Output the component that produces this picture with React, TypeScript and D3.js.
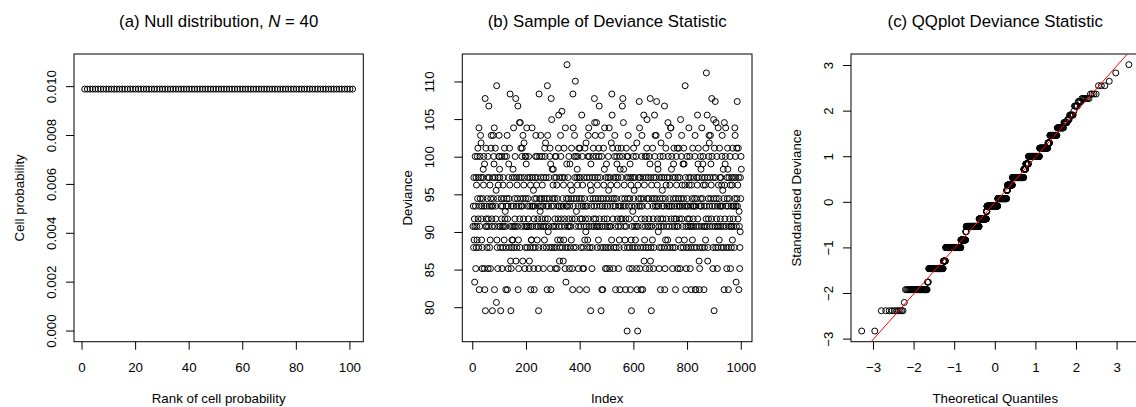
import React, { useMemo } from "react";
import * as d3 from "d3";

// ---------- Panel (a): null distribution cell probabilities (101 cells) ----------
const cellProbability = [
  0.0099, 0.0099, 0.0099, 0.0099, 0.0099, 0.0099, 0.0099, 0.0099, 0.0099, 0.0099,
  0.0099, 0.0099, 0.0099, 0.0099, 0.0099, 0.0099, 0.0099, 0.0099, 0.0099, 0.0099,
  0.0099, 0.0099, 0.0099, 0.0099, 0.0099, 0.0099, 0.0099, 0.0099, 0.0099, 0.0099,
  0.0099, 0.0099, 0.0099, 0.0099, 0.0099, 0.0099, 0.0099, 0.0099, 0.0099, 0.0099,
  0.0099, 0.0099, 0.0099, 0.0099, 0.0099, 0.0099, 0.0099, 0.0099, 0.0099, 0.0099,
  0.0099, 0.0099, 0.0099, 0.0099, 0.0099, 0.0099, 0.0099, 0.0099, 0.0099, 0.0099,
  0.0099, 0.0099, 0.0099, 0.0099, 0.0099, 0.0099, 0.0099, 0.0099, 0.0099, 0.0099,
  0.0099, 0.0099, 0.0099, 0.0099, 0.0099, 0.0099, 0.0099, 0.0099, 0.0099, 0.0099,
  0.0099, 0.0099, 0.0099, 0.0099, 0.0099, 0.0099, 0.0099, 0.0099, 0.0099, 0.0099,
  0.0099, 0.0099, 0.0099, 0.0099, 0.0099, 0.0099, 0.0099, 0.0099, 0.0099, 0.0099,
  0.0099,
];
const yLimA = [0, 0.0109];
const xTicksA = [0, 20, 40, 60, 80, 100];
const yTicksA = [0, 0.002, 0.004, 0.006, 0.008, 0.01];

// ---------- Panel (b): 1000 sampled deviance values, one code letter per draw ----------
const levelCodes = "abcdefghijklmnopqrstuvwxyzABCDEFGHIJK";
const devianceLevels = [
  76.9, 79.6, 80.7, 82.4, 83.4, 85.2, 86.2, 88.0, 89.0, 90.1,
  90.8, 91.8, 92.8, 93.5, 94.5, 95.6, 96.3, 97.3, 98.4, 99.1,
  100.1, 101.2, 101.9, 102.9, 103.9, 104.6, 105.0, 105.6, 106.1, 106.8,
  107.4, 107.8, 108.4, 109.5, 110.1, 111.2, 112.3,
];
const devianceSample = [
  "knhrilekun" + "frhqkiuovl" + "rhydnkuoxr" + "wlinfhorsq" + "unftdFbkvl",
  "nkhoruflkD" + "rnhqifovxn" + "lkbrnxouty" + "dkrvnlpcHi" + "hofrqkuxus",
  "rkhbnolufk" + "nhqrkoivul" + "mkdhnuoxdl" + "nfrtohvqGk" + "gbfnhirkis",
  "nyhkrolukF" + "gnrhqokDdi" + "fnrzlhzovn" + "rkuvngxolq" + "wrkfuhoutk",
  "ykhnrolukf" + "gnrhqdkiin" + "yrknhpfldo" + "nrhuxkoqui" + "rlkfbhGnuo",
  "mkxrnoluqk" + "nhfrkoivul" + "wkrhnodHxl" + "jnkrohuvft" + "dFnAhskoqs",
  "nkhrolufku" + "rhqfoinlvB" + "kngrhixunl" + "kCrhongqiv" + "rlkfyhenot",
  "Knhkrolukf" + "nthqkoivpl" + "fdGynhouxr" + "lIkuhmorsq" + "unfkvrodvl",
  "rkhnoBluqf" + "nhfrkoivnl" + "jwkdrnhiux" + "lykurhoqbt" + "pnkfhruovl",
  "knFzrxoluk" + "znhqrkoivu" + "Dlkrnhobxu" + "dkndohvqls" + "ynkfhrotfl",
  "nkhrupoykf" + "rnhqkwiGBo" + "vlnfrhouxn" + "kdrhoutqlv" + "rkfnhiudsl",
  "knvrolDuFn" + "zshqkoindl" + "kvruahouxr" + "nlfhotdrqi" + "bnkfhmruvo",
  "pkhrnilukf" + "wdhaqkonrE" + "yfrnhodlux" + "nkdrhoBgqi" + "lukfhruvAo",
  "nkhrolufkt" + "Fgrhbqkoiv" + "nlfrhoBuxn" + "krxoEnqlts" + "jnkfhroudl",
  "wkhrnpoluk" + "nrhDdfoivq" + "lknrhizuxn" + "kroqhnyyls" + "unkfhrotvl",
  "nkhrdoluqk" + "nvfrkoivnl" + "rfnAhouxlq" + "nkthovtinq" + "Hrdkfhnuol",
  "nkhryqlukf" + "rnhdqkoivn" + "lkrnhouxdd" + "nkhorqBltv" + "rkgdfhnuos",
  "nkyrhotuqk" + "dnhrkqivlJ" + "nkBrgholux" + "wnkrxotqlF" + "unkfhrAobv",
  "nkErhzoluk" + "fnhyqkoivn" + "rlkrnhquxn" + "pkshodzqlt" + "uyknhfrovs",
  "ndhrkoluqf" + "knhrkqivnl" + "rknhoyxurn" + "ekvoEnqlvr" + "dmkfhjrous",
].join("");

const xTicksB = [0, 200, 400, 600, 800, 1000];
const yTicksB = [80, 85, 90, 95, 100, 105, 110];

// ---------- Panel (c) ----------
const ticksC = [-3, -2, -1, 0, 1, 2, 3];
const refLine = { intercept: 0, slope: 1 };

function qnorm(p: number): number {
  const a = [-3.969683028665376e1, 2.209460984245205e2, -2.759285104469687e2, 1.38357751867269e2, -3.066479806614716e1, 2.506628277459239];
  const b = [-5.447609879822406e1, 1.615858368580409e2, -1.556989798598866e2, 6.680131188771972e1, -1.328068155288572e1];
  const c = [-7.784894002430293e-3, -3.223964580411365e-1, -2.400758277161838, -2.549732539343734, 4.374664141464968, 2.938163982698783];
  const d = [7.784695709041462e-3, 3.224671290700398e-1, 2.445134137142996, 3.754408661907416];
  const plow = 0.02425;
  if (p < plow) {
    const q = Math.sqrt(-2 * Math.log(p));
    return (((((c[0] * q + c[1]) * q + c[2]) * q + c[3]) * q + c[4]) * q + c[5]) / ((((d[0] * q + d[1]) * q + d[2]) * q + d[3]) * q + 1);
  }
  if (p > 1 - plow) {
    const q = Math.sqrt(-2 * Math.log(1 - p));
    return -(((((c[0] * q + c[1]) * q + c[2]) * q + c[3]) * q + c[4]) * q + c[5]) / ((((d[0] * q + d[1]) * q + d[2]) * q + d[3]) * q + 1);
  }
  const q = p - 0.5;
  const r = q * q;
  return ((((((a[0] * r + a[1]) * r + a[2]) * r + a[3]) * r + a[4]) * r + a[5]) * q) / (((((b[0] * r + b[1]) * r + b[2]) * r + b[3]) * r + b[4]) * r + 1);
}

function ext(lo: number, hi: number): [number, number] {
  const e = (hi - lo) * 0.04;
  return [lo - e, hi + e];
}

const FONT = '"Liberation Sans", Arial, Helvetica, sans-serif';
const TOP = 54;
const BOT = 341.7;
const FS = 13.3;
const TICK = 8;
const R = 3.0;

function Frame(p: any) {
  const cx = (p.left + p.right) / 2;
  const cy = (TOP + BOT) / 2;
  return (
    <g>
      <rect x={p.left} y={TOP} width={p.right - p.left} height={BOT - TOP} fill="none" stroke="#000" strokeWidth={1} />
      {p.xTicks.map((t: number) => (
        <g key={"xt" + t}>
          <line x1={p.x(t)} x2={p.x(t)} y1={BOT} y2={BOT + TICK} stroke="#000" strokeWidth={1} />
          <text x={p.x(t)} y={371.5} textAnchor="middle" fontSize={FS} fontFamily={FONT}>{p.xFmt(t)}</text>
        </g>
      ))}
      {p.yTicks.map((t: number) => (
        <g key={"yt" + t}>
          <line x1={p.left} x2={p.left - TICK} y1={p.y(t)} y2={p.y(t)} stroke="#000" strokeWidth={1} />
          <text transform={`translate(${p.left - p.yLabelOffset + 4.75},${p.y(t)}) rotate(-90)`} textAnchor="middle" fontSize={FS} fontFamily={FONT}>{p.yFmt(t)}</text>
        </g>
      ))}
      <text x={cx} y={403} textAnchor="middle" fontSize={FS} fontFamily={FONT}>{p.xTitle}</text>
      <text transform={`translate(${p.left - 55 + 4.75},${cy}) rotate(-90)`} textAnchor="middle" fontSize={FS} fontFamily={FONT}>{p.yTitle}</text>
      <text x={cx} y={26.6} textAnchor="middle" fontSize={16.8} fontFamily={FONT}>{p.title}</text>
    </g>
  );
}

const minusFmt = (v: number) => (v < 0 ? "\u2212" + Math.abs(v) : String(v));

export default function App() {
  const m = useMemo(() => {
    const ranks = cellProbability.map((_, i) => i + 1);
    const xA = d3.scaleLinear().domain(ext(1, 101)).range([74, 363.3]);
    const yA = d3.scaleLinear().domain(ext(yLimA[0], yLimA[1])).range([BOT, TOP]);

    const dev = devianceSample.split("").map((ch) => devianceLevels[levelCodes.indexOf(ch)]);
    const n = dev.length;
    const xB = d3.scaleLinear().domain(ext(1, n)).range([462.3, 752]);
    const [dmin, dmax] = d3.extent(dev) as [number, number];
    const yB = d3.scaleLinear().domain(ext(dmin, dmax)).range([BOT, TOP]);

    const mean = d3.mean(dev) as number;
    const sd = d3.deviation(dev) as number;
    const z = dev.map((v) => (v - mean) / sd).sort((a, b) => a - b);
    const theo = z.map((_, i) => qnorm((i + 1 - 0.5) / n));
    const pxPerUnit = (1117.3 - 873.7) / 6;
    const dC = ext(theo[0], theo[n - 1]);
    const xC = d3.scaleLinear().domain(dC).range([851, 851 + pxPerUnit * (dC[1] - dC[0])]);
    const yC = d3.scaleLinear().domain(ext(z[0], z[n - 1])).range([BOT, TOP]);
    return { ranks, xA, yA, dev, xB, yB, z, theo, xC, yC };
  }, []);

  const { ranks, xA, yA, dev, xB, yB, z, theo, xC, yC } = m;
  const [cx0, cx1] = xC.domain();

  return (
    <svg width={1136} height={407} style={{ position: "absolute", left: 0, top: 0, background: "#fff" }}>
      <defs>
        <clipPath id="clipC"><rect x={851} y={TOP} width={300} height={BOT - TOP} /></clipPath>
      </defs>
      <rect x={0} y={0} width={1136} height={407} fill="#fff" />

      {/* Panel (a) */}
      <Frame x={xA} y={yA} left={74} right={363.3} xTicks={xTicksA} yTicks={yTicksA}
        xFmt={(v: number) => String(v)} yFmt={(v: number) => v.toFixed(3)} yLabelOffset={22.3}
        xTitle="Rank of cell probability" yTitle="Cell probability"
        title={<>(a) Null distribution, <tspan fontStyle="italic">N</tspan> = 40</>} />
      {cellProbability.map((v, i) => (
        <circle key={"a" + i} cx={xA(ranks[i])} cy={yA(v)} r={R} fill="none" stroke="#000" strokeWidth={1} />
      ))}

      {/* Panel (b) */}
      <Frame x={xB} y={yB} left={462.3} right={752} xTicks={xTicksB} yTicks={yTicksB}
        xFmt={(v: number) => String(v)} yFmt={(v: number) => String(v)} yLabelOffset={33}
        xTitle="Index" yTitle="Deviance" title="(b) Sample of Deviance Statistic" />
      {dev.map((v, i) => (
        <circle key={"b" + i} cx={xB(i + 1)} cy={yB(v)} r={R} fill="none" stroke="#000" strokeWidth={1} />
      ))}

      {/* Panel (c) */}
      <Frame x={xC} y={yC} left={851} right={xC.range()[1]} xTicks={ticksC} yTicks={ticksC}
        xFmt={minusFmt} yFmt={minusFmt} yLabelOffset={22.7}
        xTitle="Theoretical Quantiles" yTitle="Standardised Deviance" title="(c) QQplot Deviance Statistic" />
      {z.map((v, i) => (
        <circle key={"c" + i} cx={xC(theo[i])} cy={yC(v)} r={R} fill="none" stroke="#000" strokeWidth={1} />
      ))}
      <line clipPath="url(#clipC)"
        x1={xC(cx0)} y1={yC(refLine.intercept + refLine.slope * cx0)}
        x2={xC(cx1)} y2={yC(refLine.intercept + refLine.slope * cx1)}
        stroke="#ff0000" strokeWidth={1} />
    </svg>
  );
}
